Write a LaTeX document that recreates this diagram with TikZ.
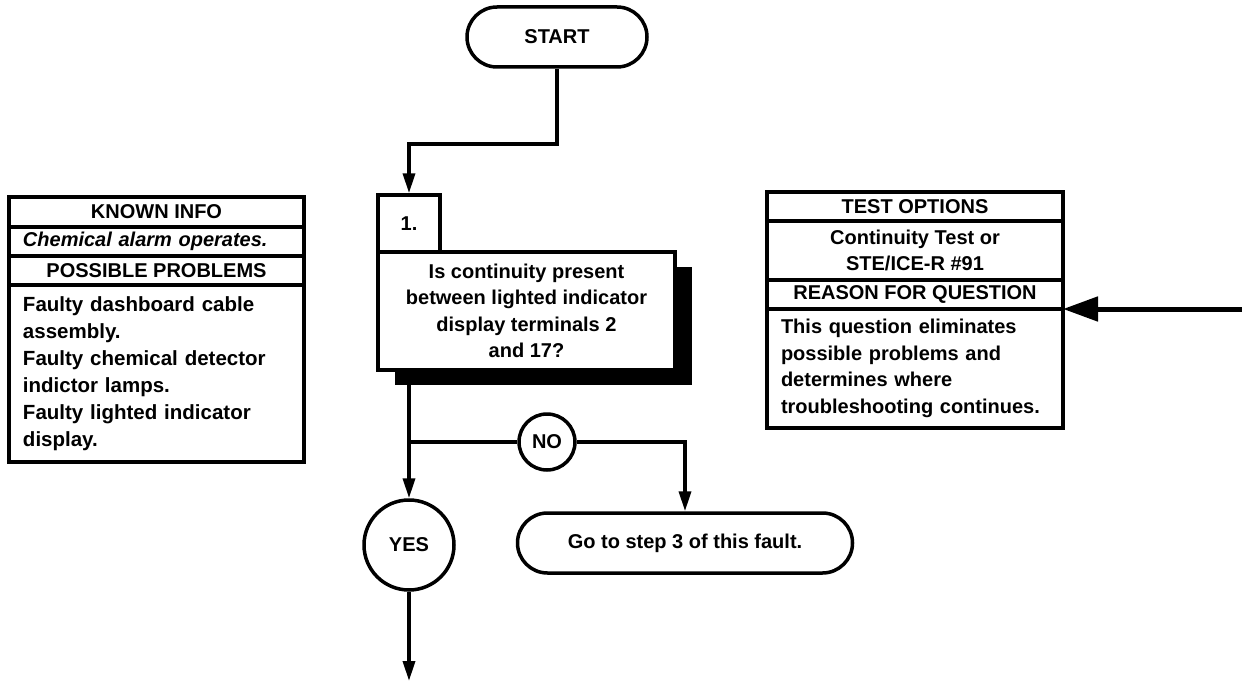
\documentclass[tikz,border=0pt]{standalone}
\usepackage{fontspec}
\setmainfont{Liberation Sans}
\usetikzlibrary{arrows.meta,shapes.misc,shadows}
\begin{document}
\begin{tikzpicture}[x=1pt,y=-1pt,
    every node/.style={font=\bfseries\fontsize{20}{26.5}\selectfont},
    term/.style={draw,line width=3.5pt,rounded rectangle,minimum height=60pt,inner sep=0pt},
    ans/.style={draw,line width=3.5pt,circle,inner sep=0pt},
    stepbox/.style={draw,line width=3.5pt,fill=white,inner sep=0pt},
    cell/.style={draw,line width=4pt,inner xsep=14pt,inner ysep=0pt,outer sep=0pt},
    flow/.style={line width=3.5pt,-{Triangle[length=20pt,width=12pt]}},
    wire/.style={line width=3.5pt},
    feed/.style={line width=5pt,-{Triangle[length=35pt,width=24pt]}}]
  \useasboundingbox (0,0) rectangle (1242,682);
  \draw
    (557,37) node[term,minimum width=180pt] (start){START}
    (526.5,311) node[stepbox,minimum width=297pt,minimum height=118pt,align=center,
      drop shadow={shadow xshift=17pt,shadow yshift=-15pt,opacity=1,fill=black}] (q)
      {Is continuity present\\between lighted indicator\\display terminals 2\\and 17?}
    (409,223.5) node[stepbox,minimum width=62pt,minimum height=57pt] (num){1.}
    (547,442) node[ans,minimum size=56pt] (no){NO}
    (409,545) node[ans,minimum size=90pt] (yes){YES}
    (685,543) node[term,minimum width=335pt] (go){Go to step 3 of this fault.};
  \draw
    (156.5,212) node[cell,minimum width=295pt,minimum height=30pt] (known){KNOWN INFO}
    (156.5,241.5) node[cell,minimum height=29pt,text width=267pt,align=left,
      font=\bfseries\itshape\fontsize{20}{26.5}\selectfont] (chem){Chemical alarm operates.}
    (156.5,270.5) node[cell,minimum width=295pt,minimum height=29pt] (poss){POSSIBLE PROBLEMS}
    (156.5,373.5) node[cell,minimum height=177pt,text width=267pt,align=left,
      font=\bfseries\fontsize{20.5}{27}\selectfont] (probs)
      {Faulty dashboard cable\\assembly.\\Faulty chemical detector\\indictor lamps.\\Faulty lighted indicator\\display.};
  \draw
    (915,206.5) node[cell,minimum width=296pt,minimum height=29pt] (opts){TEST OPTIONS}
    (915,250.5) node[cell,minimum width=296pt,minimum height=59pt,align=center] (tests)
      {Continuity Test or\\STE/ICE-R \#91}
    (915,294.5) node[cell,minimum width=296pt,minimum height=29pt] (reason){REASON FOR QUESTION}
    (915,368.5) node[cell,minimum height=119pt,text width=268pt,align=left] (why)
      {This question eliminates\\possible problems and\\determines where\\troubleshooting continues.};
  \coordinate (k1) at (557,144);
  \coordinate (j) at (409,442);
  \coordinate (k2) at (685,442);
  \coordinate (out) at (409,681);
  \coordinate (feedin) at (1242,309);
  \begin{scope}
    \draw[flow] (start) -- (k1) -| (num);
    \draw[flow] (num |- q.south) -- (yes);
    \draw[wire] (j) -- (no);
    \draw[flow] (no) -- (k2) -- (go);
    \draw[flow] (yes) -- (out);
    \draw[feed] (feedin) -- (reason.south east);
  \end{scope}
\end{tikzpicture}
\end{document}
